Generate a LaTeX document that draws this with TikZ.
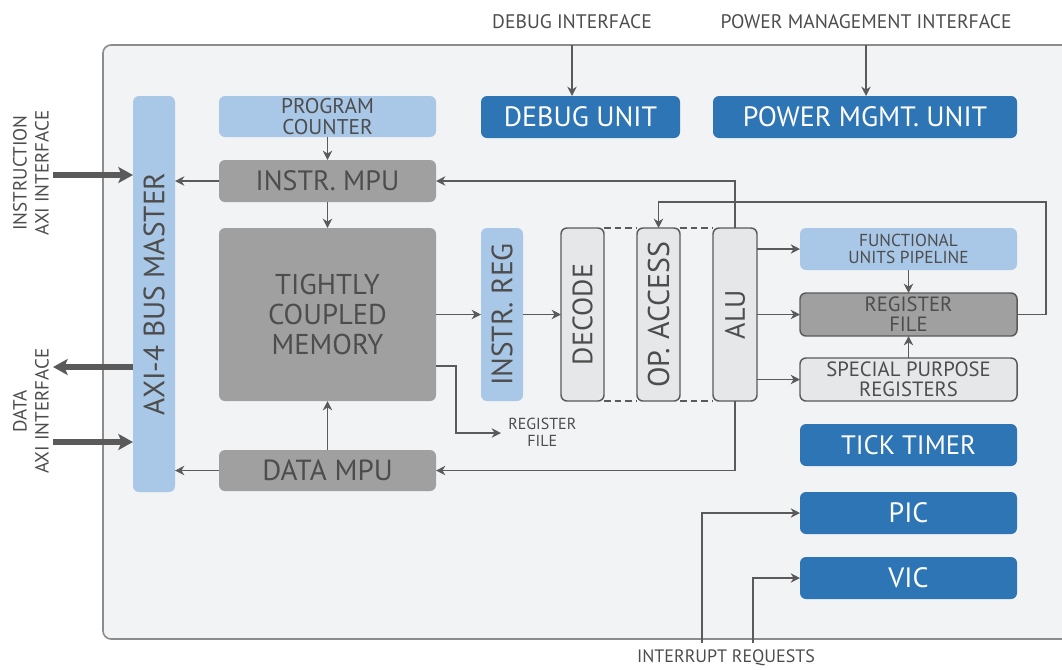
\documentclass[tikz,border=0pt]{standalone}
\usepackage{fontspec}
\setmainfont{PT Sans}
\usetikzlibrary{arrows.meta,calc}
\definecolor{dblue}{HTML}{2E75B6}
\definecolor{lblue}{HTML}{A9C7E6}
\definecolor{mgray}{HTML}{A0A0A0}
\definecolor{lgray}{HTML}{E6E7E9}
\definecolor{bgc}{HTML}{F2F3F5}
\definecolor{txt}{HTML}{4D4D4D}
\definecolor{ln}{HTML}{5A5A5A}
\definecolor{frm}{HTML}{8C8C8C}
\newcommand\bx[7]{\node[#6, minimum width={(#4-#2)*0.75pt}, minimum height={(#5-#3)*0.75pt}] (#1) at ({(#2+#4)/2},{(#3+#5)/2}) {#7};}
\newcommand\fs[2]{\fontsize{#1}{#2}\selectfont}
\begin{document}
\begin{tikzpicture}[x=0.75pt,y=-0.75pt,
  box/.style={rectangle, rounded corners=4.5pt, inner sep=0pt, outer sep=0pt, align=center, text=txt},
  blueb/.style={box, fill=dblue, text=white, font=\fs{21}{24}},
  lb/.style={box, fill=lblue},
  gb/.style={box, fill=mgray},
  pipe/.style={box, fill=lgray, draw=ln, line width=1.1pt},
  arr/.style={draw=ln, line width=1.1pt, -{Stealth[length=7pt,width=7pt,inset=2.2pt]}},
  bigarr/.style={draw=ln, line width=3.8pt, -{Stealth[length=11pt,width=12pt,inset=2.5pt]}},
  lbl/.style={inner sep=0pt, text=txt, align=center, font=\fs{14.7}{16}}]
\useasboundingbox (0,0) rectangle (1062,669);
\clip (0,0) rectangle (1062,669);
% outer frame
\path[fill=bgc, draw=frm, line width=1.2pt, rounded corners=6pt] (1080,45) -- (103,45) -- (103,639) -- (1080,639);
% top labels
\node[lbl] (dbgi) at (572,22) {DEBUG INTERFACE};
\node[lbl] (pwri) at (866,22) {POWER MANAGEMENT INTERFACE};
\coordinate (dbgin) at (572,45);
\coordinate (pwrin) at (866,45);
% boxes
\bx{dbg}{481}{96}{680}{138}{blueb}{DEBUG UNIT}
\bx{pmu}{713}{96}{1017}{138}{blueb}{POWER MGMT. UNIT}
\bx{axi}{133}{96}{175}{492}{lb}{\rotatebox{90}{\fs{22}{26}AXI-4 BUS MASTER}}
\bx{pc}{219}{96}{436}{137}{lb, font=\fs{16}{16}}{PROGRAM\\COUNTER}
\bx{impu}{219}{160}{436}{202}{gb, font=\fs{21}{24}}{INSTR. MPU}
\bx{tcm}{219}{228}{436}{401}{gb, font=\fs{21.5}{22.5}}{TIGHTLY\\COUPLED\\MEMORY}
\bx{dmpu}{219}{450}{436}{491}{gb, font=\fs{21.8}{24}}{DATA MPU}
\bx{ireg}{481}{228}{523}{401}{lb}{\rotatebox{90}{\fs{22}{24}INSTR. REG}}
\bx{dec}{561}{228}{604}{401}{pipe}{\rotatebox{90}{\fs{21}{24}DECODE}}
\bx{opa}{637}{228}{680}{401}{pipe}{\rotatebox{90}{\fs{22.5}{24}OP. ACCESS}}
\bx{alu}{713}{228}{757}{401}{pipe}{\rotatebox{90}{\fs{21}{24}ALU}}
\bx{fup}{800}{228}{1017}{270}{lb, font=\fs{13}{13}}{FUNCTIONAL\\UNITS PIPELINE}
\bx{rf}{800}{293}{1017}{336}{box, fill=mgray, draw=ln, line width=1.1pt, font=\fs{15.5}{15}}{REGISTER\\FILE}
\bx{spr}{800}{358}{1017}{401}{pipe, font=\fs{15.5}{15}}{SPECIAL PURPOSE\\REGISTERS}
\bx{tick}{800}{424}{1017}{466}{blueb, font=\fs{20}{24}}{TICK TIMER}
\bx{pic}{800}{492}{1017}{534}{blueb}{PIC}
\bx{vic}{800}{557}{1017}{599}{blueb}{VIC}
% dashed pipeline links
\draw[ln, line width=1.1pt, dash pattern=on 5pt off 3pt] (dec.north east) -- (opa.north west) (opa.north east) -- (alu.north west)
  (dec.south east) -- (opa.south west) (opa.south east) -- (alu.south west);
% side labels
\node[lbl, rotate=90, font=\fs{14.3}{16.5}] (iaxil) at (31,173) {INSTRUCTION\\AXI INTERFACE};
\node[lbl, rotate=90, font=\fs{14.3}{16.5}] (daxil) at (31,411) {DATA\\AXI INTERFACE};
\coordinate (ia) at (53,175);
\coordinate (da) at (53,367);
\coordinate (db) at (53,442);
\draw[bigarr] (ia) -- (axi.west |- ia);
\draw[bigarr] (axi.west |- da) -- (da);
\draw[bigarr] (db) -- (axi.west |- db);
% interfaces
\draw[arr] (dbgin) -- (dbgin |- dbg.north);
\draw[arr] (pwrin) -- (pwrin |- pmu.north);
% connections
\draw[arr] (impu.west) -- (axi.east |- impu.west);
\draw[arr] (dmpu.west) -- (axi.east |- dmpu.west);
\draw[arr] (pc.south) -- (impu.north);
\draw[arr] (impu.south) -- (tcm.north);
\draw[arr] (dmpu.north) -- (tcm.south);
\draw[arr] (tcm.east |- ireg.west) -- (ireg.west);
\draw[arr] (ireg.east) -- (dec.west |- ireg.east);
\draw[arr] (alu.north) |- (impu.east);
\draw[arr] (alu.south) |- (dmpu.east);
\coordinate (fb) at (1046,202);
\draw[arr] (rf.east) -| (fb) -| (opa.north);
\draw[arr] (alu.east |- fup.west) -- (fup.west);
\draw[arr] (alu.east |- rf.west) -- (rf.west);
\draw[arr] (alu.east |- spr.west) -- (spr.west);
\draw[arr] (fup.south) -- (rf.north);
\draw[arr] (spr.north) -- (rf.south);
% TCM to register file label
\node[lbl, anchor=west, font=\fs{12}{13}] (rfl) at (508,432) {REGISTER\\FILE};
\coordinate (tcmo) at (436,366);
\coordinate (tcmb) at (456,366);
\draw[arr] (tcmo) -- (tcmb) |- ($(rfl.west)+(-7,1)$);
% interrupts
\node[lbl, font=\fs{13.5}{15}] (irq) at (726,658) {INTERRUPT REQUESTS};
\coordinate (irq1) at (702,643);
\coordinate (irq2) at (753,643);
\draw[arr] (irq1) |- (pic.west);
\draw[arr] (irq2) |- (vic.west);
\end{tikzpicture}
\end{document}
